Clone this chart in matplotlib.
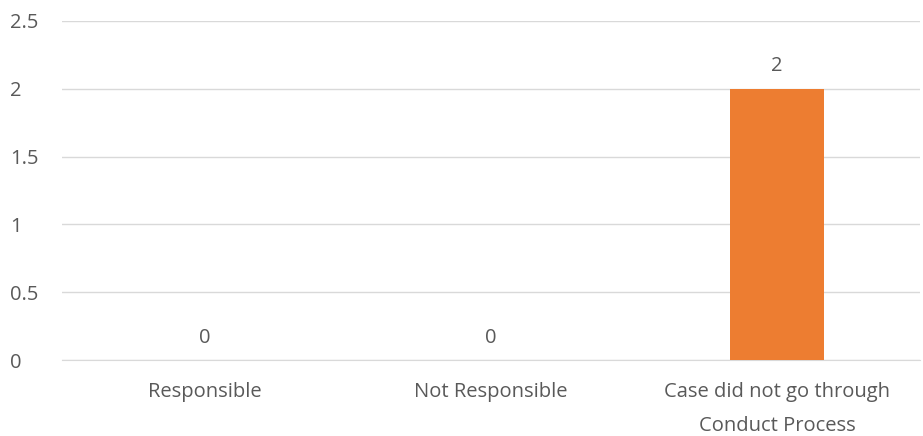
import matplotlib.pyplot as plt
import numpy as np

categories = ['Responsible', 'Not Responsible', 'Case did not go through\nConduct Process']
values = [0, 0, 2]
yticks = [0, 0.5, 1, 1.5, 2, 2.5]

plt.rcParams['font.family'] = ['Open Sans', 'DejaVu Sans']
txt = '#595959'
fs = 14.5

fig = plt.figure(figsize=(9.23, 4.36), dpi=100)
ax = fig.add_axes([0.067, 0.174, 0.93, 0.778])

x = np.arange(len(categories))
bars = ax.bar(x, values, width=0.33, color='#ED7D31', zorder=3)
for xi, v in zip(x, values):
    ax.annotate(str(v), (xi, v), xytext=(0, 9), textcoords='offset points',
                ha='center', va='bottom', fontsize=fs, color=txt)

ax.set_xlim(-0.5, len(categories) - 0.5)
ax.set_ylim(0, 2.5)
ax.set_yticks(yticks)
ax.set_yticklabels(['0', '0.5', '1', '1.5', '2', '2.5'])
ax.set_xticks(x)
ax.set_xticklabels(categories, linespacing=1.9)
ax.yaxis.grid(True, color='#D9D9D9', linewidth=1)
ax.set_axisbelow(True)
for s in ['top', 'right', 'left']:
    ax.spines[s].set_visible(False)
ax.spines['bottom'].set_color('#D9D9D9')
ax.tick_params(axis='both', length=0, labelsize=fs, colors=txt)
ax.tick_params(axis='x', pad=16)
for lab in ax.get_yticklabels():
    lab.set_horizontalalignment('left')
ax.yaxis.set_tick_params(pad=37)

fig.savefig('out.png')
